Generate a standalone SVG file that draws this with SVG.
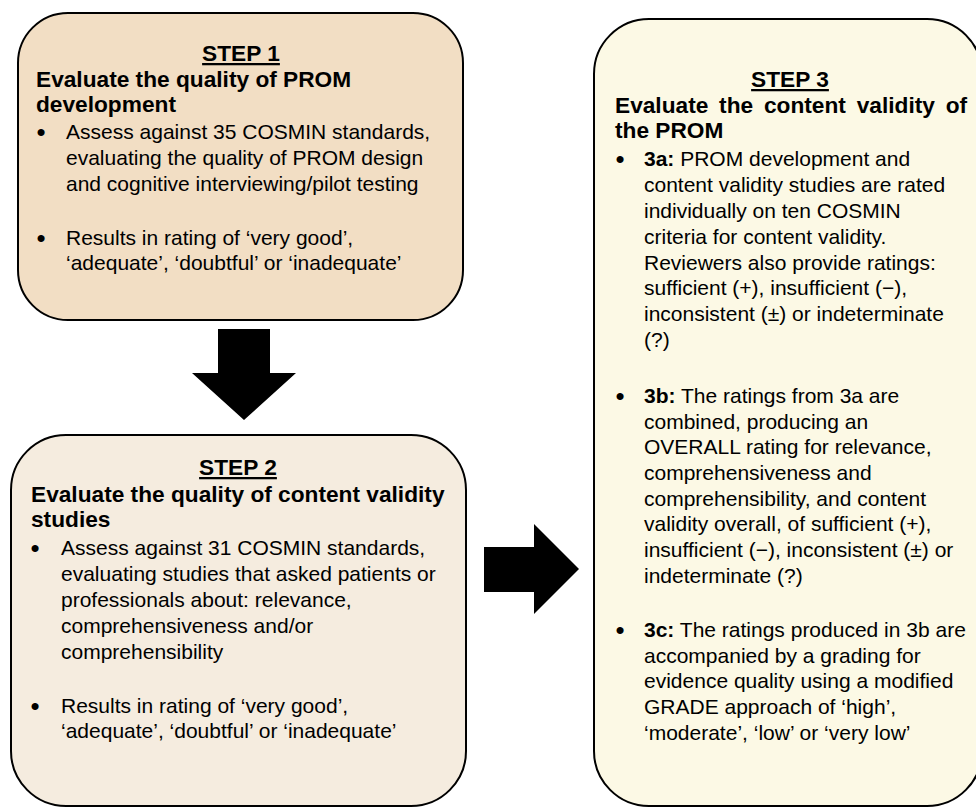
<svg xmlns="http://www.w3.org/2000/svg" width="976" height="807" viewBox="0 0 976 807">
<style>
text { font-family: "Liberation Sans", Arial, sans-serif; fill: #000; }
.box { stroke: #000; stroke-width: 2; }
.step { font-size: 22.7px; font-weight: bold; text-anchor: middle; text-decoration: underline; }
.hd { font-size: 22.7px; font-weight: bold; }
.bd { font-size: 21px; }
.bul { font-size: 26px; text-anchor: middle; }
.arrow { fill: #000; }
</style>
<rect width="976" height="807" fill="#fff"/>
<g id="step1">
<rect class="box" x="18" y="13" width="445" height="307" rx="50" ry="50" fill="#F2DEC4"/>
<text class="step" x="241" y="61">STEP 1</text>
<text class="hd" x="36" y="87">Evaluate the quality of PROM</text>
<text class="hd" x="36" y="112">development</text>
<text class="bul" x="41" y="141">•</text>
<text class="bd" x="66" y="139">Assess against 35 COSMIN standards,</text>
<text class="bd" x="66" y="165">evaluating the quality of PROM design</text>
<text class="bd" x="66" y="191">and cognitive interviewing/pilot testing</text>
<text class="bul" x="41" y="247">•</text>
<text class="bd" x="66" y="245">Results in rating of ‘very good’,</text>
<text class="bd" x="66" y="270">‘adequate’, ‘doubtful’ or ‘inadequate’</text>
</g>
<g id="step2">
<rect class="box" x="11" y="435" width="455" height="371" rx="55" ry="55" fill="#F5ECDF"/>
<text class="step" x="238" y="475">STEP 2</text>
<text class="hd" x="31" y="502">Evaluate the quality of content validity</text>
<text class="hd" x="31" y="527">studies</text>
<text class="bul" x="35" y="557">•</text>
<text class="bd" x="61" y="555">Assess against 31 COSMIN standards,</text>
<text class="bd" x="61" y="581">evaluating studies that asked patients or</text>
<text class="bd" x="61" y="607">professionals about: relevance,</text>
<text class="bd" x="61" y="633">comprehensiveness and/or</text>
<text class="bd" x="61" y="659">comprehensibility</text>
<text class="bul" x="35" y="715">•</text>
<text class="bd" x="61" y="713">Results in rating of ‘very good’,</text>
<text class="bd" x="61" y="738">‘adequate’, ‘doubtful’ or ‘inadequate’</text>
</g>
<g id="step3">
<rect class="box" x="594" y="19" width="388" height="787" rx="55" ry="55" fill="#FCF9E5"/>
<text class="step" x="790" y="87">STEP 3</text>
<text class="hd" x="615" y="113" word-spacing="4.5">Evaluate the content validity of</text>
<text class="hd" x="615" y="138">the PROM</text>
<text class="bul" x="620" y="168">•</text>
<text class="bd" x="644" y="166"><tspan font-weight="bold">3a:</tspan> PROM development and</text>
<text class="bd" x="644" y="192">content validity studies are rated</text>
<text class="bd" x="644" y="218">individually on ten COSMIN</text>
<text class="bd" x="644" y="244">criteria for content validity.</text>
<text class="bd" x="644" y="270">Reviewers also provide ratings:</text>
<text class="bd" x="644" y="295">sufficient (+), insufficient (−),</text>
<text class="bd" x="644" y="321">inconsistent (±) or indeterminate</text>
<text class="bd" x="644" y="347">(?)</text>
<text class="bul" x="620" y="405">•</text>
<text class="bd" x="644" y="403"><tspan font-weight="bold">3b:</tspan> The ratings from 3a are</text>
<text class="bd" x="644" y="429">combined, producing an</text>
<text class="bd" x="644" y="454">OVERALL rating for relevance,</text>
<text class="bd" x="644" y="480">comprehensiveness and</text>
<text class="bd" x="644" y="506">comprehensibility, and content</text>
<text class="bd" x="644" y="531">validity overall, of sufficient (+),</text>
<text class="bd" x="644" y="557">insufficient (−), inconsistent (±) or</text>
<text class="bd" x="644" y="583">indeterminate (?)</text>
<text class="bul" x="620" y="639">•</text>
<text class="bd" x="644" y="637"><tspan font-weight="bold">3c:</tspan> The ratings produced in 3b are</text>
<text class="bd" x="644" y="663">accompanied by a grading for</text>
<text class="bd" x="644" y="688">evidence quality using a modified</text>
<text class="bd" x="644" y="714">GRADE approach of ‘high’,</text>
<text class="bd" x="644" y="740">‘moderate’, ‘low’ or ‘very low’</text>
</g>
<g id="connectors">
<polygon class="arrow" points="218,329 270,329 270,373 296,373 244,420 192,373 218,373"/>
<polygon class="arrow" points="484,547 534,547 534,524 579,569 534,614 534,592 484,592"/>
</g>
</svg>
